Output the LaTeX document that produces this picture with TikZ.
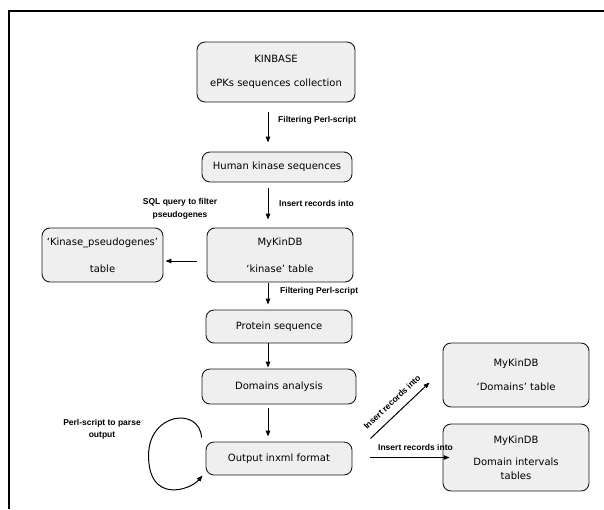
\documentclass[tikz,border=0pt]{standalone}
\usepackage{fontspec}
\setmainfont{DejaVu Sans}
\newfontfamily\lblfont{Liberation Sans}
\usetikzlibrary{arrows.meta,calc}
\definecolor{boxfill}{HTML}{EFEFEF}
\definecolor{boxline}{HTML}{1A1A1A}
\tikzset{
  box/.style={draw=boxline, fill=boxfill, rounded corners=8pt, line width=0.9pt,
    align=center, font=\fontsize{10}{12}\selectfont, inner sep=0pt},
  arr/.style={line width=1pt, -{Triangle[length=6pt,width=4.5pt]}},
  lbl/.style={font=\lblfont\bfseries\fontsize{8.5}{12.5}\selectfont, inner sep=0pt, align=center},
}
\begin{document}
\begin{tikzpicture}[x=1pt,y=-1pt]
\useasboundingbox (0,0) rectangle (604,509);
% frame
\draw[line width=2pt] (8,11) -- (604,11);
\draw[line width=1.2pt] (9,10) -- (9,509);
% axis for the vertical connectors
\coordinate (ax) at (268,0);
% boxes
\node[box, minimum width=158pt, minimum height=60pt] (kb) at (276,72) {KINBASE\\[12pt]ePKs sequences collection};
\node[box, minimum width=150pt, minimum height=30pt] (hum) at (277,167) {Human kinase sequences};
\node[box, minimum width=146pt, minimum height=54pt] (kin) at (280,255) {MyKinDB\\[15pt]‘kinase’ table};
\node[box, minimum width=121pt, minimum height=54pt] (pse) at (102.5,255) {‘Kinase\_pseudogenes’\\[15pt]table};
\node[box, minimum width=146pt, minimum height=33pt] (prot) at (279,326.5) {Protein sequence};
\node[box, minimum width=154pt, minimum height=35pt] (dom) at (279,386.5) {Domains analysis};
\node[box, minimum width=146pt, minimum height=33pt] (out) at (279,458.5) {Output inxml format};
\node[box, minimum width=146pt, minimum height=64pt] (dt) at (516,375) {MyKinDB\\[12pt]‘Domains’ table};
\node[box, minimum width=146pt, minimum height=67pt] (di) at (516,457.5) {MyKinDB\\[10pt]Domain intervals\\[2pt]tables};
% vertical connectors
\draw[arr, shorten <=10pt, shorten >=9pt] (kb.south -| ax) -- (hum.north -| ax);
\draw[arr, shorten <=6pt, shorten >=8pt] (hum.south -| ax) -- (kin.north -| ax);
\draw[arr, shorten <=1pt, shorten >=5pt] (kin.south -| ax) -- (prot.north -| ax);
\draw[arr, shorten >=1pt] (prot.south -| ax) -- (dom.north -| ax);
\draw[arr, shorten <=4pt, shorten >=5pt] (dom.south -| ax) -- (out.north -| ax);
% side connector to pseudogenes
\draw[arr, shorten <=10pt, shorten >=2pt] ([yshift=-6pt]kin.west) -- ([yshift=-6pt]kin.west -| pse.east);
% labels of vertical connectors
\node[lbl, anchor=west] (l1) at (278,120) {Filtering Perl-script};
\node[lbl, anchor=west] (l2) at (279,203) {Insert records into};
\node[lbl] (l3) at (180,209) {SQL query to filter\\pseudogenes};
\node[lbl, anchor=west] (l4) at (280,291) {Filtering Perl-script};
% right connectors
\draw[arr] ([xshift=18pt,yshift=20pt]out.east) -- node[lbl, sloped, above=8pt] {Insert records into} ([xshift=-13pt,yshift=25pt]dt.south west);
\draw[arr, shorten >=11pt] ([xshift=18pt,yshift=1pt]out.east) -- node[lbl, above=6pt] {Insert records into} ([xshift=18pt,yshift=1pt]out.east -| di.west);
% loop
\draw[arr] ($(out.west)+(-4,-21)$) .. controls ($(out.west)+(-6,-52)$) and ($(out.west)+(-57,-46)$) .. ($(out.west)+(-57,-3)$)
  .. controls ($(out.west)+(-57,45)$) and ($(out.west)+(-16,32)$) .. ($(out.west)+(-3,17)$);
\node[lbl] (l5) at (102,429.5) {Perl-script to parse\\output};
\end{tikzpicture}
\end{document}
